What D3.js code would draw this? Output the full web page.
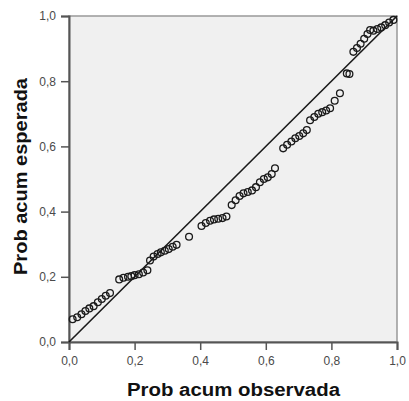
<!DOCTYPE html>
<html>
<head>
<meta charset="utf-8">
<script src="https://cdn.jsdelivr.net/npm/d3@7"></script>
<style>
body { margin: 0; background: #fff; }
text { font-family: "Liberation Sans", Arial, sans-serif; }
</style>
</head>
<body>
<svg id="chart" width="409" height="401"></svg>
<script>
// P-P plot: observed vs expected cumulative probability
const obs = [
    0.011, 0.025, 0.038, 0.050, 0.062, 0.075, 0.088, 0.100, 0.112, 0.125,
    0.153, 0.166, 0.180, 0.190, 0.200, 0.213, 0.226, 0.239,
    0.247, 0.258, 0.270, 0.280, 0.292, 0.304, 0.316, 0.328,
    0.366,
    0.404, 0.417, 0.430, 0.442, 0.455, 0.468, 0.480,
    0.496, 0.508, 0.520, 0.532, 0.545, 0.558, 0.570, 0.582, 0.594, 0.606, 0.618, 0.628,
    0.653, 0.665, 0.678, 0.690, 0.702, 0.714, 0.725, 0.735, 0.748, 0.760, 0.772, 0.784, 0.796, 0.810, 0.826,
    0.847, 0.855,
    0.867, 0.878, 0.889, 0.900, 0.910, 0.918, 0.928, 0.940, 0.952, 0.964, 0.976, 0.989
];
const esp = [
    0.070, 0.076, 0.085, 0.095, 0.103, 0.110, 0.122, 0.132, 0.142, 0.150,
    0.192, 0.197, 0.200, 0.202, 0.205, 0.208, 0.213, 0.220,
    0.250, 0.262, 0.270, 0.275, 0.280, 0.285, 0.292, 0.298,
    0.323,
    0.356, 0.365, 0.372, 0.376, 0.378, 0.380, 0.385,
    0.420, 0.435, 0.448, 0.456, 0.460, 0.465, 0.475, 0.490, 0.500, 0.505, 0.515, 0.533,
    0.594, 0.605, 0.615, 0.625, 0.632, 0.640, 0.650, 0.680, 0.690, 0.700, 0.705, 0.710, 0.717, 0.740, 0.763,
    0.824, 0.822,
    0.890, 0.902, 0.915, 0.930, 0.945, 0.957, 0.955, 0.960, 0.965, 0.972, 0.980, 0.988
];
const ticks = [0, 0.2, 0.4, 0.6, 0.8, 1.0];
const tickLabels = ["0,0", "0,2", "0,4", "0,6", "0,8", "1,0"];
const diag = [0, 1];

const svg = d3.select("#chart");
const mLeft = 69, mRight = 397, mTop = 16, mBottom = 342;

const x = d3.scaleLinear().domain([0, 1]).range([mLeft, mRight]);
const y = d3.scaleLinear().domain([0, 1]).range([mBottom, mTop]);

// plot background + frame
svg.append("rect")
    .attr("x", mLeft).attr("y", mTop)
    .attr("width", mRight - mLeft).attr("height", mBottom - mTop)
    .attr("fill", "#f0f0f0")
    .attr("stroke", "#999").attr("stroke-width", 1.5);

const fmt = d => tickLabels[ticks.indexOf(d)];

const xAxis = svg.append("g")
    .attr("transform", `translate(0,${mBottom})`)
    .call(d3.axisBottom(x).tickValues(ticks).tickFormat(fmt).tickSize(8).tickPadding(6));
const yAxis = svg.append("g")
    .attr("transform", `translate(${mLeft},0)`)
    .call(d3.axisLeft(y).tickValues(ticks).tickFormat(fmt).tickSize(8).tickPadding(5));

[xAxis, yAxis].forEach(g => {
    g.select(".domain").attr("stroke", "#555").attr("stroke-width", 2);
    g.selectAll(".tick line").attr("stroke", "#555").attr("stroke-width", 1.5);
    g.selectAll(".tick text")
        .attr("fill", "#4a4a4a")
        .style("font-size", "12px")
        .style("font-family", "'Liberation Sans', Arial, sans-serif");
});

// reference diagonal
svg.append("line")
    .attr("x1", x(diag[0])).attr("y1", y(diag[0]))
    .attr("x2", x(diag[1])).attr("y2", y(diag[1]))
    .attr("stroke", "#1a1a1a").attr("stroke-width", 1.6);

// points
svg.append("g")
    .selectAll("circle")
    .data(obs)
    .enter().append("circle")
    .attr("cx", d => x(d))
    .attr("cy", (d, i) => y(esp[i]))
    .attr("r", 3.4)
    .attr("fill", "none")
    .attr("stroke", "#1a1a1a")
    .attr("stroke-width", 1.3);

// axis titles
svg.append("text")
    .attr("x", 233.5).attr("y", 396)
    .attr("text-anchor", "middle")
    .attr("textLength", 213).attr("lengthAdjust", "spacingAndGlyphs")
    .style("font-size", "18px").style("font-weight", "bold")
    .attr("fill", "#111")
    .text("Prob acum observada");

svg.append("text")
    .attr("transform", "translate(27,176.5) rotate(-90)")
    .attr("text-anchor", "middle")
    .attr("textLength", 197).attr("lengthAdjust", "spacingAndGlyphs")
    .style("font-size", "18px").style("font-weight", "bold")
    .attr("fill", "#111")
    .text("Prob acum esperada");
</script>
</body>
</html>
